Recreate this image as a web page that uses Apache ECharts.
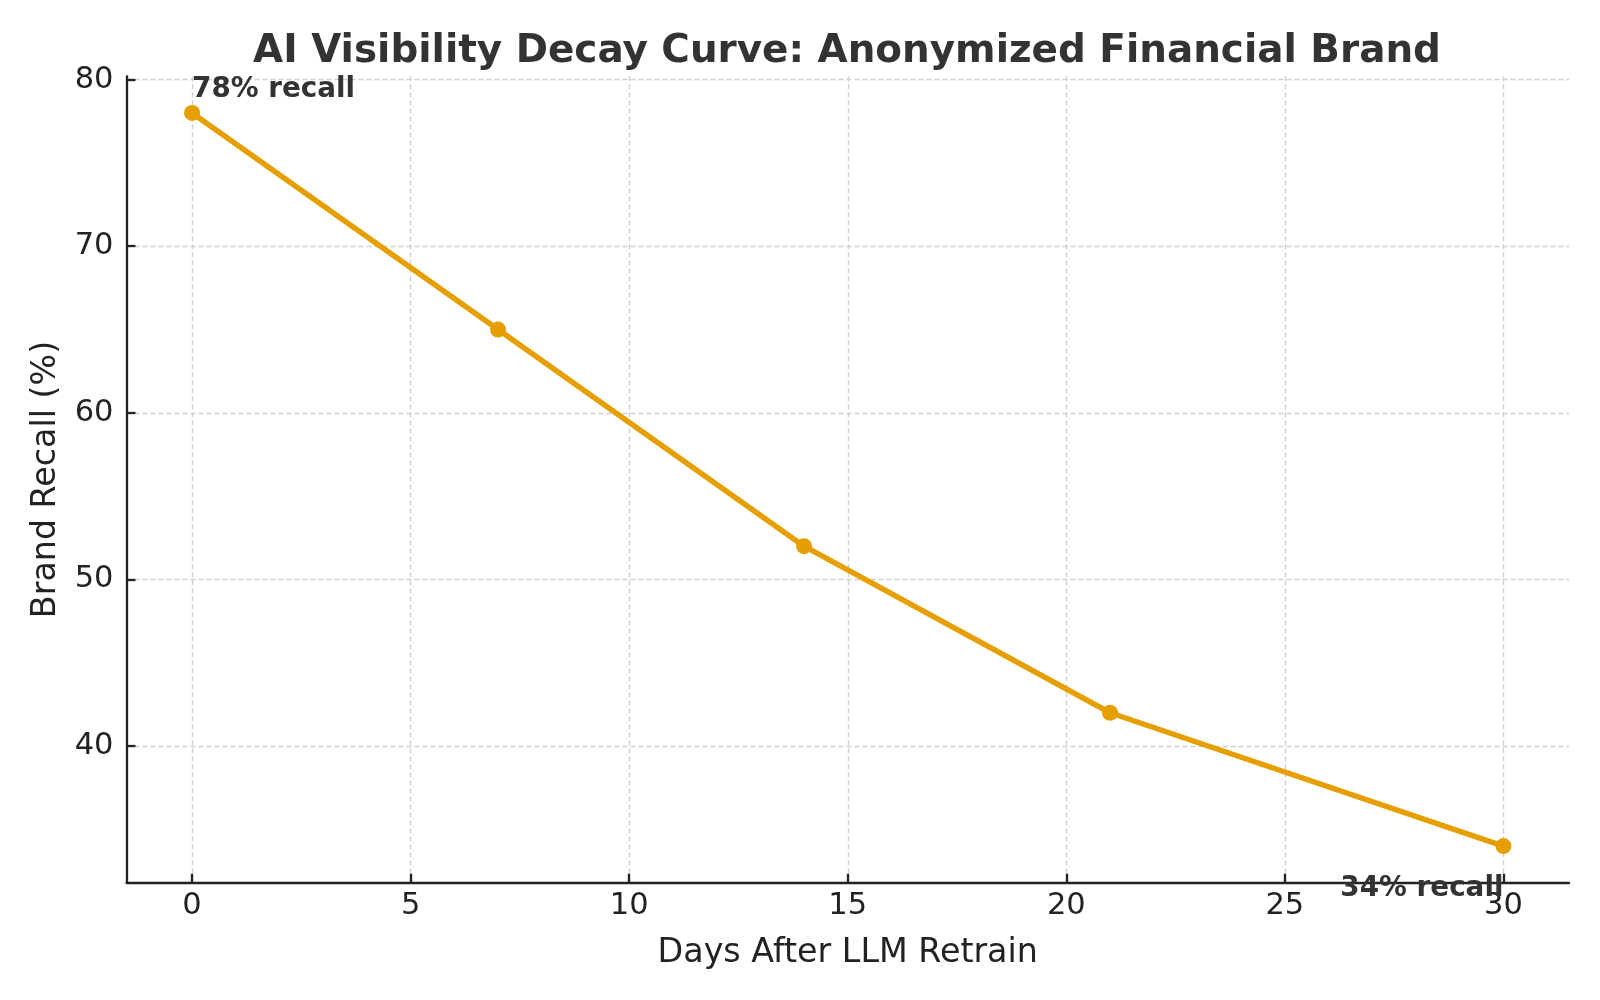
<!DOCTYPE html>
<html>
<head>
<meta charset="utf-8">
<script src="https://cdn.jsdelivr.net/npm/echarts@6/dist/echarts.min.js"></script>
<style>html,body{margin:0;padding:0;background:#fff;}#c{width:1600px;height:1000px;}</style>
</head>
<body>
<div id="c"></div>
<script>
const days = [0, 7, 14, 21, 30];
const recall = [78, 65, 52, 42, 34];
const xTicks = [0, 5, 10, 15, 20, 25, 30];
const yTicks = [40, 50, 60, 70, 80];
const titleText = 'AI Visibility Decay Curve: Anonymized Financial Brand';
const xName = 'Days After LLM Retrain';
const yName = 'Brand Recall (%)';

const font = 'DejaVu Sans';
const lastIdx = days.length - 1;
const seriesData = days.map((d, i) => {
  const item = { value: [d, recall[i]] };
  if (i === 0) {
    item.label = { show: true, position: 'top', align: 'left', distance: 5, offset: [0, 4],
      formatter: recall[i] + '% recall' };
  } else if (i === lastIdx) {
    item.label = { show: true, position: 'bottom', align: 'right', distance: 5, offset: [0, 16],
      formatter: recall[i] + '% recall' };
  }
  return item;
});

const chart = echarts.init(document.getElementById('c'), null, { renderer: 'canvas' });
const axisCommon = {
  axisLine: { show: true, onZero: false, lineStyle: { color: '#222', width: 2.3 } },
  axisTick: { show: true, inside: true, length: 9, lineStyle: { color: '#222', width: 2.3 } },
  axisLabel: { color: '#222', fontFamily: font, fontSize: 30.5 },
  splitLine: { show: true, lineStyle: { color: '#d0d0d0', width: 1.4, type: [5, 3] } },
  nameLocation: 'middle',
  nameTextStyle: { color: '#222', fontFamily: font, fontSize: 33.3 }
};
chart.setOption({
  backgroundColor: '#fff',
  animation: false,
  title: {
    text: titleText, left: 842, top: 27, textAlign: 'center',
    textStyle: { fontFamily: font, fontWeight: 'bold', fontSize: 38.9, color: '#333' }
  },
  grid: { left: 126.5, right: 31, top: 76.3, bottom: 117.3, containLabel: false },
  xAxis: Object.assign({}, axisCommon, {
    type: 'value', min: -1.5, max: 31.5,
    name: xName, nameGap: 54,
    axisTick: Object.assign({}, axisCommon.axisTick, { customValues: xTicks }),
    axisLabel: Object.assign({}, axisCommon.axisLabel, { customValues: xTicks, margin: 8 })
  }),
  yAxis: Object.assign({}, axisCommon, {
    type: 'value', min: 31.8, max: 80.2,
    name: yName, nameGap: 64,
    axisTick: Object.assign({}, axisCommon.axisTick, { customValues: yTicks }),
    axisLabel: Object.assign({}, axisCommon.axisLabel, { customValues: yTicks, margin: 13 })
  }),
  series: [{
    type: 'line',
    data: seriesData,
    symbol: 'circle',
    symbolSize: 16,
    lineStyle: { color: '#E69F00', width: 5.5 },
    itemStyle: { color: '#E69F00' },
    label: { show: false, fontFamily: font, fontWeight: 'bold', fontSize: 27.8, color: '#333' },
    z: 3
  }]
});
</script>
</body>
</html>
